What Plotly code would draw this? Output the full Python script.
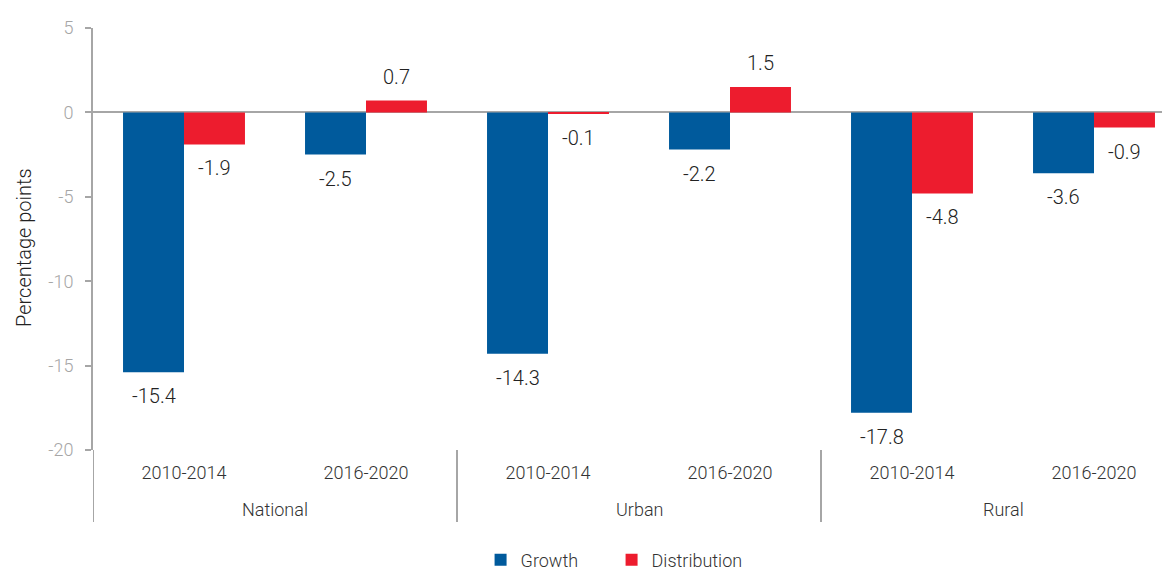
import plotly.graph_objects as go

groups = ["National", "National", "Urban", "Urban", "Rural", "Rural"]
periods = ["2010-2014", "2016-2020", "2010-2014", "2016-2020", "2010-2014", "2016-2020"]
growth = [-15.4, -2.5, -14.3, -2.2, -17.8, -3.6]
distribution = [-1.9, 0.7, -0.1, 1.5, -4.8, -0.9]
group_names = ["National", "Urban", "Rural"]
y_ticks = [5, 0, -5, -10, -15, -20]
y_ticktext = ["5", "0", "-5", "-10", "-15", "-20"]

cats = [f"{g} {p}" for g, p in zip(groups, periods)]

BLUE = "#005a9c"
RED = "#ed1c2e"
FONT = "Roboto"
W8 = 300

BARGAP = 0.33
bar_w = (1 - BARGAP) / 2

fig = go.Figure()
fig.add_trace(go.Bar(x=cats, y=growth, name="Growth", marker_color=BLUE, marker_line_width=0))
fig.add_trace(go.Bar(x=cats, y=distribution, name="Distribution", marker_color=RED, marker_line_width=0))

# page body has an 8px margin, so the figure is laid out 8px in from the page corner
OFF = 8
W, H = 1170 - OFF, 572 - OFF
L, T = 93 - OFF, 28 - OFF
PB = 450 - OFF           # plot bottom in figure px
B = H - PB
plot_h = PB - T
plot_w = W - L
cat_w = 182
xmax = -0.5 + plot_w / cat_w

fig.update_layout(
    width=W, height=H,
    margin=dict(l=L, r=0, t=T, b=B, autoexpand=False),
    plot_bgcolor="white", paper_bgcolor="white",
    barmode="group", bargap=BARGAP, bargroupgap=0,
    font=dict(family=FONT, color="#222222", weight=W8),
    showlegend=True,
    legend=dict(orientation="h", x=0.4815, xanchor="center", y=-(560 - 450) / plot_h, yanchor="middle",
                font=dict(size=18, color="#333333", family=FONT, weight=W8),
                entrywidth=86, traceorder="normal"),
)
fig.update_xaxes(
    type="category", range=[-0.5, xmax], automargin=False,
    tickvals=cats, ticktext=periods,
    tickfont=dict(size=18, color="#333333", family=FONT, weight=W8),
    ticklabelstandoff=10,
    showgrid=False, showline=False, ticks="", zeroline=False,
)
fig.update_yaxes(
    range=[-20, 5], tickvals=y_ticks, ticktext=y_ticktext, automargin=False,
    tickfont=dict(size=18, color="#a6a6a6", family=FONT, weight=W8),
    ticklabelstandoff=8,
    showgrid=False, showline=True, linecolor="#a6a6a6", linewidth=2,
    ticks="outside", ticklen=6, tickcolor="#a6a6a6", tickwidth=2,
    zeroline=True, zerolinecolor="#a6a6a6", zerolinewidth=2,
)

# y-axis title
fig.add_annotation(x=-(L - (24 - OFF)) / plot_w, xref="paper", y=1 - ((248 - 28) / plot_h), yref="paper",
                   text="Percentage points", textangle=-90, showarrow=False,
                   xanchor="center", yanchor="middle",
                   font=dict(size=20, color="#222222", family=FONT, weight=W8))

# data labels placed at the bar ends
for vals, off in [(growth, -bar_w / 2), (distribution, bar_w / 2)]:
    for i, v in enumerate(vals):
        fig.add_annotation(x=i + off, xref="x", y=v, yref="y", text=f"{v:.1f}",
                           showarrow=False, yanchor="middle", xanchor="center",
                           yshift=24 if v > 0 else -24,
                           font=dict(size=20, color="#222222", family=FONT, weight=W8))

div_bottom = -(522 - 450) / plot_h
for xv in [-0.5, 1.5, 3.5]:
    fig.add_shape(type="line", xref="x", yref="paper", x0=xv, x1=xv, y0=0, y1=div_bottom,
                  line=dict(color="#a6a6a6", width=2))

for i, g in enumerate(group_names):
    fig.add_annotation(x=2 * i + 0.5, xref="x", y=-(509 - 450) / plot_h, yref="paper",
                       text=g, showarrow=False, yanchor="middle",
                       font=dict(size=18, color="#333333", family=FONT, weight=W8))

fig.write_html("out.html")
